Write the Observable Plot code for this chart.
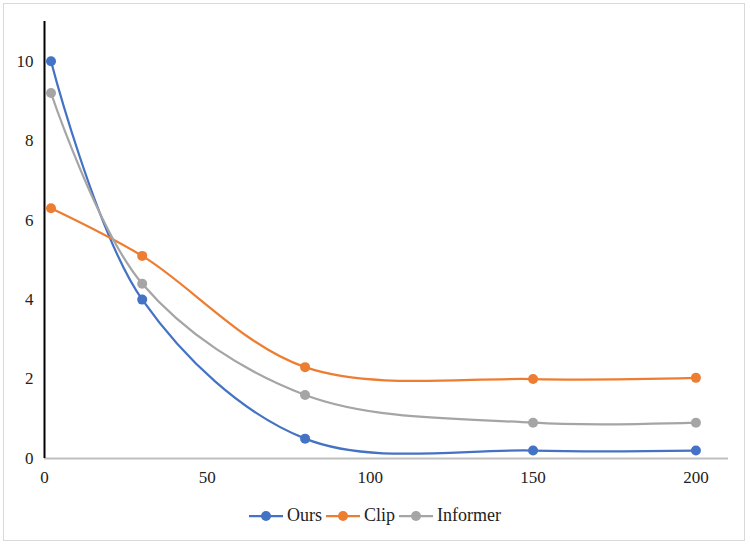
<!DOCTYPE html>
<html>
<head>
<meta charset="utf-8">
<script src="https://cdn.jsdelivr.net/npm/d3@7"></script>
<script src="https://cdn.jsdelivr.net/npm/@observablehq/plot@0.6"></script>
<style>
  body { margin: 0; background: #fff; }
  #wrap { position: relative; width: 750px; height: 546px; overflow: hidden; background: #fff; }
  #frame { position: absolute; left: 3px; top: 3px; width: 742px; height: 538px; border: 1px solid #d9d9d9; box-sizing: border-box; }
  #chart { position: absolute; left: 0; top: 0; }
  #chart svg, #chart svg text { font-family: "Liberation Serif", "DejaVu Serif", serif !important; }
  #legend { position: absolute; left: 0; top: 505px; width: 750px; display: flex; justify-content: center; align-items: center;
            font-family: "Liberation Serif", "DejaVu Serif", serif; font-size: 18px; color: #222; }
  .item { display: flex; align-items: center; margin: 0 2px; }
  .item svg { margin-right: 4px; }
</style>
</head>
<body>
<div id="wrap">
  <div id="frame"></div>
  <div id="chart"></div>
  <div id="legend"></div>
</div>
<script>
const xs = [2, 30, 80, 150, 200];
const ours = [10, 4.0, 0.5, 0.2, 0.2];
const clip = [6.3, 5.1, 2.3, 2.0, 2.03];
const informer = [9.2, 4.4, 1.6, 0.9, 0.9];
const seriesNames = ["Ours", "Clip", "Informer"];
const seriesColors = ["#4472C4", "#ED7D31", "#A5A5A5"];
const xTicks = [0, 50, 100, 150, 200];
const yTicks = [0, 2, 4, 6, 8, 10];

const seriesValues = [ours, clip, informer];
const data = [];
seriesNames.forEach((name, i) => {
  xs.forEach((x, j) => data.push({series: name, x, y: seriesValues[i][j]}));
});

const font = "'Liberation Serif', 'DejaVu Serif', serif";

const plot = Plot.plot({
  width: 750,
  height: 490,
  marginLeft: 44,
  marginRight: 22,
  marginTop: 21,
  marginBottom: 32,
  style: { fontFamily: font, fontSize: "17px", color: "#222", background: "transparent" },
  x: { domain: [0, 210], ticks: xTicks, tickSize: 0, tickPadding: 12, label: null },
  y: { domain: [0, 11], ticks: yTicks, tickSize: 0, tickPadding: 11, label: null },
  color: { domain: seriesNames, range: seriesColors },
  marks: [
    Plot.ruleY([0], { x1: 0, x2: 210, stroke: "#bfbfbf", strokeWidth: 2 }),
    Plot.ruleX([0], { y1: 0, y2: 11, stroke: "#000", strokeWidth: 2 }),
    Plot.line(data, { x: "x", y: "y", z: "series", stroke: "series", strokeWidth: 2.25, curve: "catmull-rom" }),
    Plot.dot(data, { x: "x", y: "y", fill: "series", r: 5 })
  ]
});
document.getElementById("chart").appendChild(plot);

const legend = document.getElementById("legend");
seriesNames.forEach((name, i) => {
  const item = document.createElement("div");
  item.className = "item";
  item.innerHTML = `<svg width="34" height="12"><line x1="0" y1="6" x2="34" y2="6" stroke="${seriesColors[i]}" stroke-width="2.25"/><circle cx="17" cy="6" r="5" fill="${seriesColors[i]}"/></svg><span>${name}</span>`;
  legend.appendChild(item);
});
</script>
</body>
</html>
